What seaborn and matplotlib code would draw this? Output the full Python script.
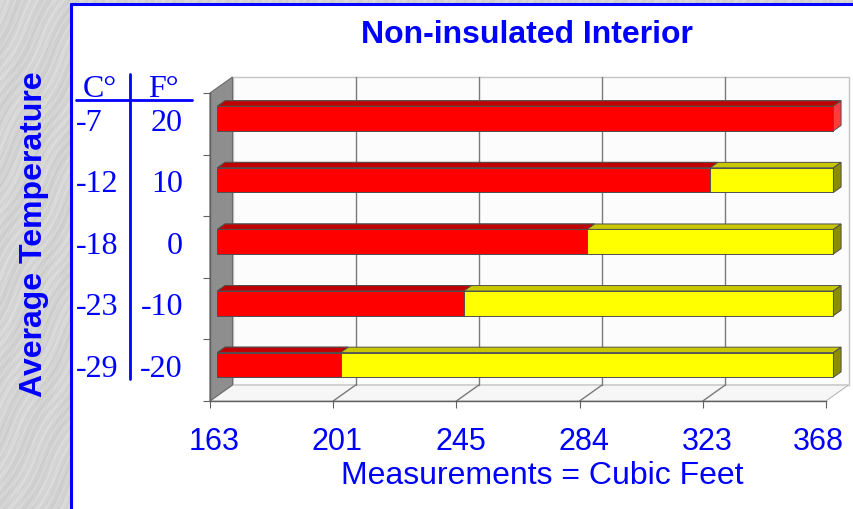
import numpy as np
import pandas as pd
import matplotlib
matplotlib.use("Agg")
import matplotlib.pyplot as plt
from matplotlib.patches import Polygon, Rectangle
from matplotlib.lines import Line2D
from matplotlib.transforms import Affine2D, IdentityTransform, ScaledTranslation
import seaborn as sns

# values
temps_f = ["20", "10", "0", "-10", "-20"]
temps_c = ["-7", "-12", "-18", "-23", "-29"]
red_vals = [368, 323, 284, 245, 201]
total_vals = [368, 368, 368, 368, 368]
tick_vals = [163, 201, 245, 284, 323, 368]

title = "Non-insulated Interior"
ylabel = "Average Temperature"
xlabel = "Measurements = Cubic Feet"

BLUE = "#0000ff"
W, H = 854, 510

sns.set_style("white")
plt.rcParams["font.family"] = ["Liberation Sans", "DejaVu Sans"]

df = pd.DataFrame({"temp_f": temps_f, "temp_c": temps_c,
                   "red": red_vals, "total": total_vals})

fig = plt.figure(figsize=(W / 100, H / 100), dpi=100)
ident = IdentityTransform()

# background: grey marble strip + white panel with blue frame
bg = fig.add_axes([0, 0, 1, 1], zorder=0)
yy, xx = np.mgrid[0:H, 0:W]
tex = (0.83 + 0.018 * np.sin((xx + 0.6 * yy) * 0.8 + 3 * np.sin((xx - yy) * 0.045))
       + 0.012 * np.sin((xx + 0.6 * yy) * 0.21 + (xx - yy) * 0.03)
       + 0.01 * np.sin(xx * 1.7 + yy * 0.9))
bg.imshow(tex, cmap="gray", vmin=0, vmax=1, extent=(0, W, H, 0),
          aspect="auto", interpolation="bilinear")
bg.add_patch(Rectangle((71, 5), W - 71, H - 5, facecolor="white", edgecolor="none"))
bg.plot([71, 71], [5, H], color=BLUE, lw=2.2)
bg.plot([71, W], [5, 5], color=BLUE, lw=2.2)

# front plane of the 3d box (display px, y up)
L, R, B, T = 210, 826, 108, 416
DX, DY = 22.5, 16.0          # full depth of the box
f0, f1 = 0.33, 0.67          # depth range occupied by the bars
sx, sy = DX * f0, DY * f0
ddx, ddy = DX * (f1 - f0), DY * (f1 - f0)

ax = fig.add_axes([L / W, B / H, (R - L) / W, (T - B) / H], zorder=1)
ax.patch.set_alpha(0)
idx = np.arange(len(tick_vals))
ax.set_xscale("function", functions=(lambda v: np.interp(v, tick_vals, idx),
                                     lambda p: np.interp(p, idx, tick_vals)))

sns.barplot(data=df, x="total", y="temp_f", orient="h", color="#ffff00",
            saturation=1, width=0.4, edgecolor="#505050", linewidth=0.7,
            errorbar=None, ax=ax)
sns.barplot(data=df, x="red", y="temp_f", orient="h", color="#ff0000",
            saturation=1, width=0.4, edgecolor="#505050", linewidth=0.7,
            errorbar=None, ax=ax)

ax.set_xlim(tick_vals[0], tick_vals[-1])
ax.set_xticks(tick_vals)
ax.set_xticklabels([str(v) for v in tick_vals])
ax.set_yticks(np.arange(-0.5, len(temps_f), 1))
ax.set_yticklabels([])
ax.set_ylim(len(temps_f) - 0.5, -0.5)
ax.set_xlabel("")
ax.set_ylabel("")
for s in ["top", "right"]:
    ax.spines[s].set_visible(False)
for s in ["left", "bottom"]:
    ax.spines[s].set_color("#606060")
    ax.spines[s].set_linewidth(1.0)
ax.tick_params(axis="x", length=5, color="#606060", labelsize=22,
               labelcolor=BLUE, pad=13, direction="out", bottom=True)
ax.tick_params(axis="y", length=5, color="#606060", direction="out", left=True)
# labels sit slightly right of their ticks, the last one pulled in
labels = ax.get_xticklabels()
for k, lab in enumerate(labels):
    shift = -8 if k == len(labels) - 1 else 4
    lab.set_transform(lab.get_transform() + ScaledTranslation(shift / 100, 0, fig.dpi_scale_trans))

# walls, floor and gridlines of the box
back = Rectangle((L + DX, B + DY), R - L, T - B, facecolor="#fcfcfc",
                 edgecolor="#c4c4c4", lw=1, transform=ident)
floor = Polygon([(L, B), (R, B), (R + DX, B + DY), (L + DX, B + DY)],
                facecolor="#f6f6f6", edgecolor="#b8b8b8", lw=0.8, transform=ident)
wall = Polygon([(L, B), (L, T), (L + DX, T + DY), (L + DX, B + DY)],
               facecolor="#8e8e8e", edgecolor="#6a6a6a", lw=0.8, transform=ident)
for p in (back, floor, wall):
    bg.add_artist(p)
for v in tick_vals[1:-1]:
    xd = ax.transData.transform((v, 0))[0]
    bg.add_artist(Line2D([xd, xd + DX], [B, B + DY], color="#7a7a7a", lw=1, transform=ident))
    bg.add_artist(Line2D([xd + DX, xd + DX], [B + DY, T + DY], color="#7a7a7a", lw=1, transform=ident))
bg.set_xlim(0, W)
bg.set_ylim(H, 0)
bg.axis("off")

# push the bars into the box and add their top / side faces
for p in ax.patches:
    p.set_transform(ax.transData + Affine2D().translate(sx, sy))
    p.set_clip_on(False)

n = len(temps_f)
for i in range(n):
    x0 = ax.transData.transform((tick_vals[0], i))[0] + sx
    xr = ax.transData.transform((red_vals[i], i))[0] + sx
    xe = ax.transData.transform((total_vals[i], i))[0] + sx
    yt = ax.transData.transform((tick_vals[0], i - 0.2))[1] + sy
    yb = ax.transData.transform((tick_vals[0], i + 0.2))[1] + sy
    faces = [
        ([(x0, yt), (xe, yt), (xe + ddx, yt + ddy), (x0 + ddx, yt + ddy)], "#c8c800"),
        ([(x0, yt), (xr, yt), (xr + ddx, yt + ddy), (x0 + ddx, yt + ddy)], "#c00000"),
        ([(xe, yb), (xe, yt), (xe + ddx, yt + ddy), (xe + ddx, yb + ddy)],
         "#ff3c3c" if red_vals[i] >= total_vals[i] else "#8c8c00"),
    ]
    for pts, col in faces:
        ax.add_artist(Polygon(pts, closed=True, facecolor=col, edgecolor="#505050",
                              lw=0.7, transform=ident, clip_on=False, zorder=3))

# temperature table on the left
serif = ["Liberation Serif", "DejaVu Serif"]
fig.text(100 / W, 413 / H, "C°", family=serif, size=23, color=BLUE, ha="center", va="baseline")
fig.text(163 / W, 413 / H, "F°", family=serif, size=23, color=BLUE, ha="center", va="baseline")
bg.plot([76, 192], [101, 101], color=BLUE, lw=2)
bg.plot([130, 130], [75, 380], color=BLUE, lw=2)
for i in range(n):
    yc = ax.transData.transform((tick_vals[0], i))[1] + sy
    fig.text(76 / W, (yc - 11) / H, temps_c[i], family=serif, size=23,
             color=BLUE, ha="left", va="baseline")
    fig.text(183 / W, (yc - 11) / H, temps_f[i], family=serif, size=23,
             color=BLUE, ha="right", va="baseline")

fig.text(527 / W, 1 - 35 / H, title, size=23, weight="bold", color=BLUE,
         ha="center", va="center")
fig.text(34 / W, 1 - 234 / H, ylabel, size=23, weight="bold", color=BLUE,
         ha="center", va="center", rotation=90)
fig.text(542 / W, 1 - 476 / H, xlabel, size=23, color=BLUE,
         ha="center", va="center")

fig.savefig("out.png", dpi=100)
